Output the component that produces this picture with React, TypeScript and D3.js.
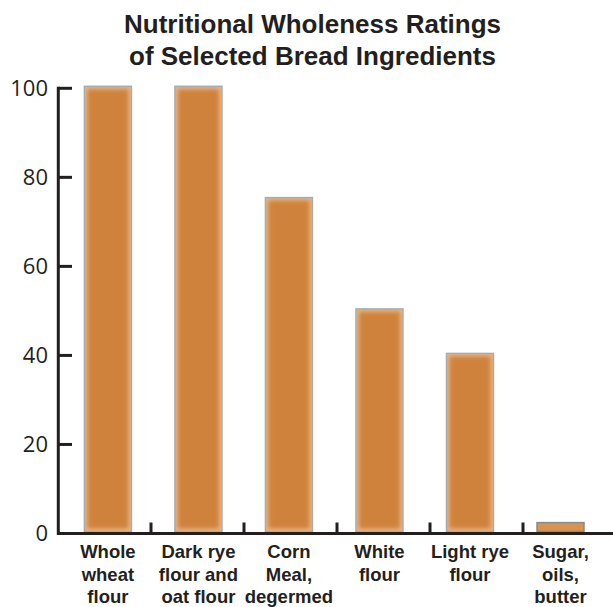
import React from "react";
import * as d3 from "d3";

const categories = [
  ["Whole", "wheat", "flour"],
  ["Dark rye", "flour and", "oat flour"],
  ["Corn", "Meal,", "degermed"],
  ["White", "flour"],
  ["Light rye", "flour"],
  ["Sugar,", "oils,", "butter"],
];
const ratings = [100, 100, 75, 50, 40, 2];
const yTicks = [0, 20, 40, 60, 80, 100];
const titleLines = ["Nutritional Wholeness Ratings", "of Selected Bread Ingredients"];

const W = 613;
const H = 607;
const ink = "#231F20";

export default function App() {
  const keys = categories.map((c) => c.join(" "));
  const y = d3.scaleLinear().domain([0, 100]).range([533.5, 88.3]);
  const slots = d3.scaleBand().domain(keys).range([58, 616]);
  const centers = d3.scalePoint().domain(keys).range([107.9, 560.5]);
  const barW = 47;
  const lift = 2;

  return (
    <svg width={W} height={H} style={{ position: "absolute", left: 0, top: 0 }}>
      <defs>
        <filter id="soft" x="-20%" y="-20%" width="140%" height="140%">
          <feGaussianBlur stdDeviation="2.2" />
        </filter>
        {keys.map((k, i) => (
          <clipPath id={`clip${i}`} key={k}>
            <rect
              x={centers(k)! - barW / 2}
              y={y(ratings[i]) - lift}
              width={barW}
              height={y(0) - y(ratings[i])}
            />
          </clipPath>
        ))}
      </defs>
      <rect width={W} height={H} fill="#fff" />

      {titleLines.map((t, i) => (
        <text
          key={t}
          x={312.5}
          y={33 + i * 32}
          textAnchor="middle"
          fontFamily="'Liberation Sans', Arial, sans-serif"
          fontWeight="bold"
          fontSize={26}
          fill={ink}
        >
          {t}
        </text>
      ))}

      {/* bars */}
      {keys.map((k, i) => {
        const x0 = centers(k)! - barW / 2;
        const top = y(ratings[i]) - lift;
        const h = y(0) - y(ratings[i]);
        const small = h < 20;
        return (
          <g key={k}>
            {small ? (
              <rect x={x0} y={top} width={barW} height={h} fill="#D8944F" />
            ) : (
              <g clipPath={`url(#clip${i})`}>
                <rect x={x0} y={top} width={barW} height={h} fill="#E8B485" />
                <rect
                  x={x0 + 3}
                  y={top + 3}
                  width={barW - 6}
                  height={h - 6}
                  fill="#CF823A"
                  filter="url(#soft)"
                />
              </g>
            )}
            <rect
              x={x0}
              y={top}
              width={barW}
              height={h}
              fill="none"
              stroke={small ? "#8a8a8a" : "#ababab"}
              strokeWidth={1.5}
            />
          </g>
        );
      })}

      {/* y axis */}
      <line x1={58.3} x2={58.3} y1={86.8} y2={535} stroke={ink} strokeWidth={3} />
      {yTicks.map((t) => (
        <g key={t}>
          {t > 0 && (
            <line x1={58.3} x2={72} y1={y(t)} y2={y(t)} stroke={ink} strokeWidth={3} />
          )}
          <text
            x={48}
            y={y(t)}
            dy="0.36em"
            textAnchor="end"
            fontFamily="'Open Sans', sans-serif"
            fontSize={22}
            fill={ink}
          >
            {t}
          </text>
        </g>
      ))}

      {/* x axis */}
      <line x1={57} x2={W} y1={y(0)} y2={y(0)} stroke={ink} strokeWidth={3} />
      {keys.map((k) => (
        <line
          key={k}
          x1={slots(k)! + slots.bandwidth()}
          x2={slots(k)! + slots.bandwidth()}
          y1={y(0)}
          y2={y(0) - 11}
          stroke={ink}
          strokeWidth={3}
        />
      ))}
      {categories.map((lines, i) => (
        <text
          key={keys[i]}
          x={centers(keys[i])!}
          textAnchor="middle"
          fontFamily="'Liberation Sans', Arial, sans-serif"
          fontWeight="bold"
          fontSize={18.5}
          fill={ink}
        >
          {lines.map((l, j) => (
            <tspan key={j} x={centers(keys[i])!} y={558.3 + j * 22.5}>
              {l}
            </tspan>
          ))}
        </text>
      ))}
    </svg>
  );
}
